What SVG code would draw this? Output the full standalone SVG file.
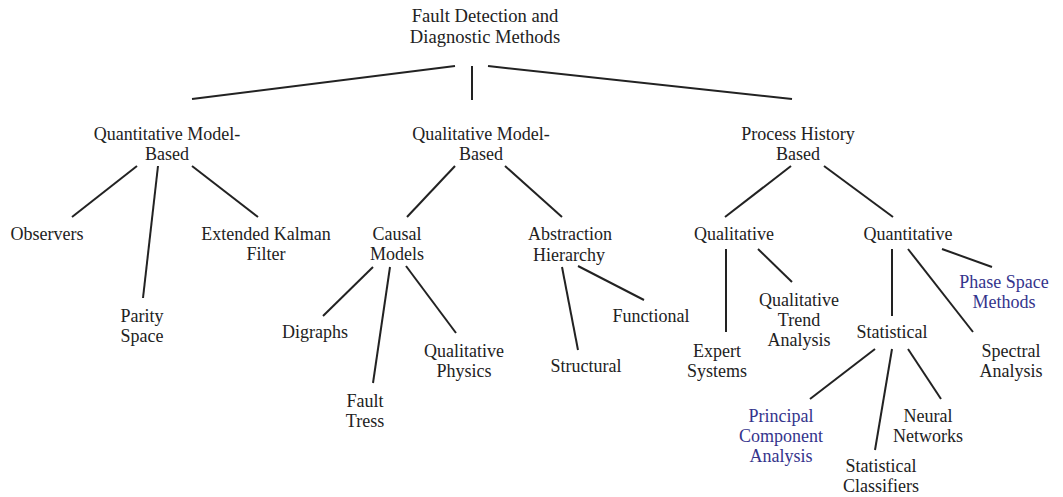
<svg xmlns="http://www.w3.org/2000/svg" width="1063" height="497" viewBox="0 0 1063 497">
<style>
text{font-family:'Liberation Serif','Times New Roman',serif;font-size:18px;fill:#222;text-anchor:middle}
text.b{fill:#34348c}
#root text{font-size:18.6px}
.c line{stroke:#222;stroke-width:2;stroke-linecap:butt}
</style>
<rect width="1063" height="497" fill="#fff"/>
<g class="c" id="connectors">
<line x1="455" y1="66" x2="192" y2="99"/>
<line x1="472" y1="66" x2="472" y2="100"/>
<line x1="488" y1="66" x2="792" y2="99"/>
<line x1="137" y1="166" x2="72" y2="217"/>
<line x1="158" y1="166" x2="143" y2="298"/>
<line x1="192" y1="166" x2="258" y2="217"/>
<line x1="455" y1="166" x2="407" y2="217"/>
<line x1="505" y1="166" x2="562" y2="217"/>
<line x1="373" y1="267" x2="323" y2="316"/>
<line x1="390" y1="267" x2="373" y2="383"/>
<line x1="406" y1="266" x2="456" y2="333"/>
<line x1="562" y1="267" x2="578" y2="350"/>
<line x1="578" y1="266" x2="644" y2="300"/>
<line x1="791" y1="166" x2="725" y2="217"/>
<line x1="824" y1="166" x2="893" y2="217"/>
<line x1="726" y1="249" x2="726" y2="332"/>
<line x1="758" y1="249" x2="792" y2="282"/>
<line x1="892" y1="249" x2="892" y2="316"/>
<line x1="908" y1="249" x2="973" y2="332"/>
<line x1="942" y1="249" x2="992" y2="267"/>
<line x1="875" y1="349" x2="810" y2="399"/>
<line x1="892" y1="349" x2="875" y2="450"/>
<line x1="908" y1="349" x2="941" y2="399"/>
</g>
<g id="root"><text x="485" y="22">Fault Detection and</text><text x="485" y="43">Diagnostic Methods</text></g>
<g id="quant-model"><text x="167" y="140">Quantitative Model-</text><text x="167" y="160">Based</text></g>
<g id="qual-model"><text x="481" y="140">Qualitative Model-</text><text x="481" y="160">Based</text></g>
<g id="process-history"><text x="798" y="140">Process History</text><text x="798" y="160">Based</text></g>
<g id="observers"><text x="47" y="240">Observers</text></g>
<g id="parity"><text x="142" y="322">Parity</text><text x="142" y="342">Space</text></g>
<g id="ekf"><text x="266" y="240">Extended Kalman</text><text x="266" y="260">Filter</text></g>
<g id="causal"><text x="397" y="240">Causal</text><text x="397" y="260">Models</text></g>
<g id="digraphs"><text x="315" y="338">Digraphs</text></g>
<g id="fault-tress"><text x="365" y="407">Fault</text><text x="365" y="427">Tress</text></g>
<g id="qual-physics"><text x="464" y="357">Qualitative</text><text x="464" y="377">Physics</text></g>
<g id="abstraction"><text x="570" y="240">Abstraction</text><text x="569" y="261">Hierarchy</text></g>
<g id="functional"><text x="651" y="322">Functional</text></g>
<g id="structural"><text x="586" y="372">Structural</text></g>
<g id="qualitative"><text x="734" y="240">Qualitative</text></g>
<g id="quantitative"><text x="908" y="240">Quantitative</text></g>
<g id="expert"><text x="717" y="357">Expert</text><text x="717" y="377">Systems</text></g>
<g id="qta"><text x="799" y="306">Qualitative</text><text x="799" y="326">Trend</text><text x="799" y="346">Analysis</text></g>
<g id="statistical"><text x="892" y="338">Statistical</text></g>
<g id="phase-space"><text class="b" x="1004" y="288">Phase Space</text><text class="b" x="1004" y="308">Methods</text></g>
<g id="spectral"><text x="1011" y="357">Spectral</text><text x="1011" y="377">Analysis</text></g>
<g id="pca"><text class="b" x="781" y="422">Principal</text><text class="b" x="781" y="442">Component</text><text class="b" x="781" y="462">Analysis</text></g>
<g id="neural"><text x="928" y="422">Neural</text><text x="928" y="442">Networks</text></g>
<g id="stat-class"><text x="881" y="472">Statistical</text><text x="881" y="492">Classifiers</text></g>
</svg>
